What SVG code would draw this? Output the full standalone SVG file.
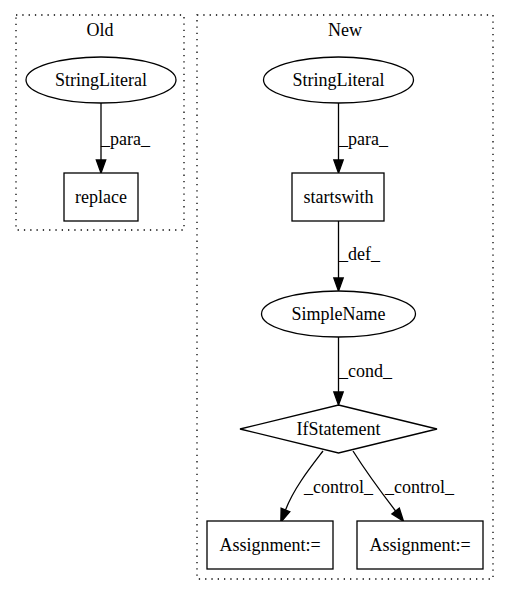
<svg xmlns="http://www.w3.org/2000/svg" width="509" height="596" viewBox="0 0 509 596">
<style>
text{font-family:"Liberation Serif","Times New Roman",serif;font-size:18px;fill:#000}
.t{text-anchor:middle}
.cl{fill:none;stroke:#000;stroke-width:1.3;stroke-dasharray:1.3,5}
.n{fill:#fff;stroke:#000;stroke-width:1.3}
.e{fill:none;stroke:#000;stroke-width:1.3}
</style>
<defs>
<marker id="ah" markerUnits="userSpaceOnUse" markerWidth="16" markerHeight="12" refX="0" refY="0" viewBox="0 -6 16 12" orient="auto" overflow="visible">
<path d="M0,-4.7 L13,0 L0,4.7 z" fill="#000" stroke="#000" stroke-width="1.3"/>
</marker>
</defs>
<rect width="509" height="596" fill="#fff"/>
<g id="cluster_old">
<rect class="cl" x="16" y="15" width="168" height="215"/>
<text class="t" x="100" y="36">Old</text>
</g>
<g id="cluster_new">
<rect class="cl" x="197" y="15" width="296" height="564"/>
<text class="t" x="345" y="36">New</text>
</g>
<g id="connectors">
<path class="e" d="M101,103 L101,160" marker-end="url(#ah)"/>
<text x="101" y="145">_para_</text>
<path class="e" d="M338.5,103 L338.5,160" marker-end="url(#ah)"/>
<text x="339" y="145">_para_</text>
<path class="e" d="M338.5,221 L338.5,278" marker-end="url(#ah)"/>
<text x="339" y="260">_def_</text>
<path class="e" d="M338.5,337 L338.5,392" marker-end="url(#ah)"/>
<text x="339" y="377">_cond_</text>
<path class="e" d="M323,451 C310,468 294,488 285.5,510" marker-end="url(#ah)"/>
<text x="304" y="493">_control_</text>
<path class="e" d="M353,451 C365,470 381,492 395.6,511" marker-end="url(#ah)"/>
<text x="385" y="493">_control_</text>
</g>
<g id="old_stringliteral">
<ellipse class="n" cx="101" cy="80" rx="75" ry="23"/>
<text class="t" x="101" y="86">StringLiteral</text>
</g>
<g id="replace">
<rect class="n" x="64" y="173" width="74" height="48"/>
<text class="t" x="101" y="203">replace</text>
</g>
<g id="new_stringliteral">
<ellipse class="n" cx="338.5" cy="80" rx="75" ry="23"/>
<text class="t" x="338.5" y="86">StringLiteral</text>
</g>
<g id="startswith">
<rect class="n" x="292" y="173" width="92" height="48"/>
<text class="t" x="338.5" y="203">startswith</text>
</g>
<g id="simplename">
<ellipse class="n" cx="338.5" cy="314" rx="77" ry="23"/>
<text class="t" x="338.5" y="320">SimpleName</text>
</g>
<g id="ifstatement">
<polygon class="n" points="338.5,405 437,429 338.5,453 240,429"/>
<text class="t" x="338.5" y="435">IfStatement</text>
</g>
<g id="assignment1">
<rect class="n" x="207" y="521" width="126" height="48"/>
<text class="t" x="270" y="551">Assignment:=</text>
</g>
<g id="assignment2">
<rect class="n" x="357" y="521" width="126" height="48"/>
<text class="t" x="420" y="551">Assignment:=</text>
</g>
</svg>
